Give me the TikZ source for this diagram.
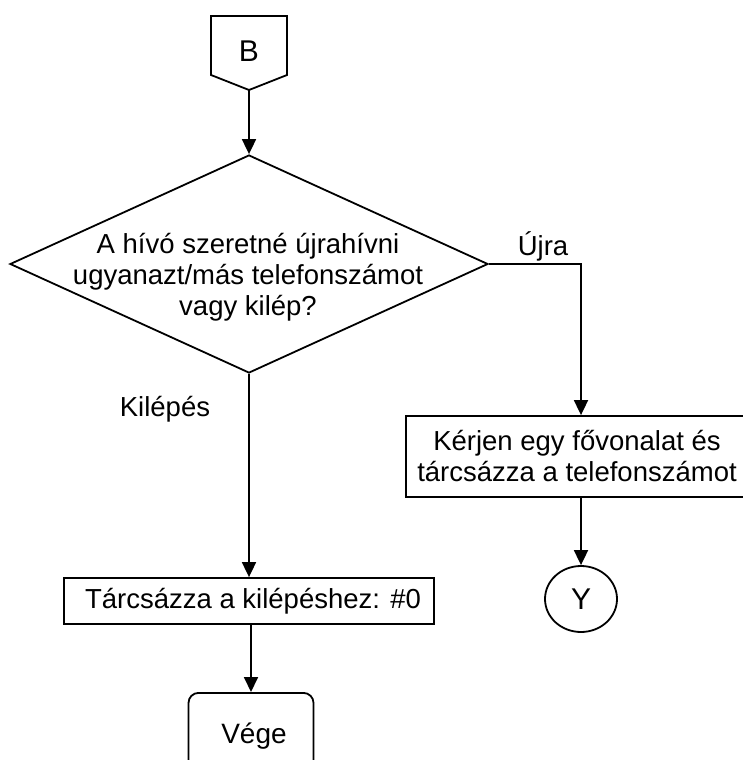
\documentclass[tikz,border=0pt]{standalone}
\usepackage{fontspec}
\setmainfont{Liberation Sans}
\usetikzlibrary{shapes.geometric,arrows.meta}
\begin{document}
\begin{tikzpicture}[x=1pt,y=-1pt,
  every node/.style={font=\fontsize{27.5}{31}\selectfont, inner sep=0pt},
  ln/.style={line width=1.8pt},
  arr/.style={ln, -{Triangle[width=14pt,length=15pt]}},
  procbox/.style={draw, ln, rectangle, align=center},
  bigtxt/.style={font=\fontsize{30}{32}\selectfont}]
\useasboundingbox (0,0) rectangle (742,760);
% off-page connector B
\draw[ln, line join=miter] (211,16) -- (287,16) -- (287,75) -- (249,90) -- (211,75) -- cycle;
\node[bigtxt] (B) at (249,51) {B};
\coordinate (Bpt) at (249,90);
% decision
\node[diamond, draw, ln, minimum width=478, minimum height=218] (d) at (249,264) {};
\node[align=center] (dt) at (248,277) {A hívó szeretné újrahívni\\ugyanazt/más telefonszámot\\vagy kilép?};
% right branch
\node[procbox, minimum width=342, minimum height=81] (rb) at (577,456.5) {Kérjen egy fővonalat és\\tárcsázza a telefonszámot};
\node[ellipse, draw, ln, minimum width=72, minimum height=66, bigtxt] (Y) at (581,599) {Y};
% left branch
\node[procbox, minimum width=370, minimum height=46] (lb) at (249,601) {\hspace*{8pt}Tárcsázza a kilépéshez: \#0};
\node[draw, ln, rounded corners=10pt, minimum width=125, minimum height=90, anchor=north, font=\fontsize{28}{30}\selectfont] (end) at (251,692) {\raisebox{10pt}{\hspace*{6pt}Vége}};
% labels
\node[anchor=base] (lujra) at (543,255) {Újra};
\node[anchor=base] (lkil) at (165,416) {Kilépés};
% connectors
\draw[arr] (Bpt) -- (d.north);
\draw[arr] (d.east) -| (Y |- rb.north);
\draw[arr] (Y |- rb.south) -- (Y.north);
\draw[arr] (d.south) -- (lb.north);
\draw[arr] (end.north |- lb.south) -- (end.north);
\end{tikzpicture}
\end{document}
